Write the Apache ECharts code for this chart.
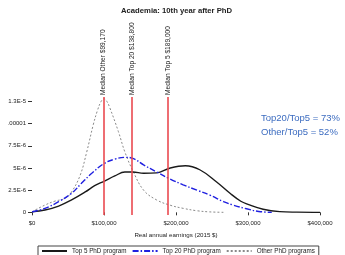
<!DOCTYPE html>
<html>
<head>
<meta charset="utf-8">
<script src="https://cdn.jsdelivr.net/npm/echarts@6/dist/echarts.min.js"></script>
<style>
  html, body { margin: 0; padding: 0; background: #fff; }
  #chart { width: 345px; height: 255px; }
</style>
</head>
<body>
<div id="chart"></div>
<script>
// Earnings in thousands of 2015 $; density in units of 1E-6
const top5X  = [0, 18, 37, 55, 74, 87, 100, 115, 129, 140, 155, 173, 192, 213, 233, 256, 275, 290, 300, 321, 344, 368, 400];
const top5Y  = [0.05, 0.26, 0.71, 1.4, 2.3, 3.0, 3.5, 4.1, 4.55, 4.55, 4.4, 4.45, 5.0, 5.25, 4.8, 3.45, 2.15, 1.25, 0.9, 0.35, 0.08, 0.02, 0];
const top20X = [0, 18, 37, 55, 69, 83, 100, 115, 129, 141, 155, 173, 192, 210, 229, 247, 266, 280, 298, 315, 333];
const top20Y = [0.05, 0.45, 1.2, 2.15, 3.3, 4.4, 5.5, 6.0, 6.2, 6.05, 5.35, 4.55, 3.75, 3.1, 2.5, 1.95, 1.2, 0.8, 0.4, 0.1, 0];
const otherX = [0, 18, 32, 46, 55, 67, 76, 85, 91, 96, 100, 104, 108, 120, 129, 140, 155, 173, 192, 210, 229, 247, 268];
const otherY = [0.07, 0.82, 1.27, 1.57, 2.3, 4.2, 6.8, 9.85, 11.5, 12.5, 12.8, 12.5, 11.8, 9.1, 6.8, 4.7, 2.5, 1.4, 0.8, 0.45, 0.18, 0.05, 0];

const seriesNames = ['Top 5 PhD program', 'Top 20 PhD program', 'Other PhD programs'];
const medianValues = [99.17, 138.8, 189];
const medianLabels = ['Median Other $99,170', 'Median Top 20 $138,800', 'Median Top 5 $189,000'];
const xTickValues = [0, 100, 200, 300, 400];
const xTickLabels = ['$0', '$100,000', '$200,000', '$300,000', '$400,000'];
const yTickValues = [0, 2.5, 5, 7.5, 10, 12.5];
const yTickLabels = ['0', '2.5E-6', '5E-6', '7.5E-6', '.00001', '1.3E-5'];
const titleText = 'Academia: 10th year after PhD';
const xAxisName = 'Real annual earnings (2015 $)';
const noteLines = ['Top20/Top5 = 73%', 'Other/Top5 = 52%'];

function pairs(xs, ys) { return xs.map((x, i) => [x, ys[i]]); }

const FONT = '"Liberation Sans", Arial, sans-serif';
const RED = '#ea4a50';
const chart = echarts.init(document.getElementById('chart'), null, { renderer: 'canvas' });

const option = {
  animation: false,
  backgroundColor: '#fff',
  title: {
    text: titleText, left: 121, top: 7, padding: 0,
    textStyle: { fontFamily: FONT, fontSize: 7.7, fontWeight: 'bold', color: '#222' }
  },
  grid: { left: 32, right: 25, top: 97, bottom: 40, containLabel: false },
  xAxis: {
    type: 'value', min: 0, max: 400,
    axisLine: { show: false },
    splitLine: { show: false },
    axisTick: { show: true, length: 3, lineStyle: { color: '#333' }, customValues: xTickValues },
    axisLabel: {
      customValues: xTickValues, margin: 5, fontSize: 6, fontFamily: FONT, color: '#222',
      formatter: v => xTickLabels[xTickValues.indexOf(v)]
    },
    name: xAxisName, nameLocation: 'middle', nameGap: 17,
    nameTextStyle: { fontSize: 6.2, fontFamily: FONT, color: '#222' }
  },
  yAxis: {
    type: 'value', min: -0.3, max: 13,
    axisLine: { show: false },
    splitLine: { show: false },
    axisTick: { show: true, length: 4, lineStyle: { color: '#333' }, customValues: yTickValues },
    axisLabel: {
      customValues: yTickValues, margin: 6, fontSize: 6, fontFamily: FONT, color: '#222',
      formatter: v => yTickLabels[yTickValues.indexOf(v)]
    }
  },
  legend: {
    left: 38, top: 246, padding: [2, 4, 3, 3], itemGap: 5, itemWidth: 25, itemHeight: 6,
    borderColor: '#444', borderWidth: 1,
    itemStyle: { color: 'rgba(0,0,0,0)', borderWidth: 0, opacity: 0 },
    textStyle: { fontSize: 6.3, fontFamily: FONT, color: '#222' },
    data: seriesNames
  },
  series: [
    {
      name: seriesNames[0], type: 'line', data: pairs(top5X, top5Y),
      smooth: 0.4, symbol: 'none', showSymbol: false, z: 3,
      lineStyle: { color: '#1a1a1a', width: 1.4, type: 'solid' },
      itemStyle: { color: '#1a1a1a' }
    },
    {
      name: seriesNames[1], type: 'line', data: pairs(top20X, top20Y),
      smooth: 0.4, symbol: 'none', showSymbol: false, z: 4,
      lineStyle: { color: '#1f1fe0', width: 1.4, type: [6, 2, 1.5, 2] },
      itemStyle: { color: '#1f1fe0' }
    },
    {
      name: seriesNames[2], type: 'line', data: pairs(otherX, otherY),
      smooth: 0.4, symbol: 'none', showSymbol: false, z: 2,
      lineStyle: { color: '#8a8a8a', width: 1, type: [2, 2] },
      itemStyle: { color: '#8a8a8a' }
    },
    {
      name: 'medians', type: 'line', data: [], z: 1,
      markLine: {
        silent: true, symbol: ['none', 'none'], animation: false,
        label: { show: false },
        emphasis: { disabled: true },
        lineStyle: { color: RED, width: 1.6, type: 'solid', opacity: 1 },
        data: medianValues.map(v => ({ xAxis: v }))
      }
    }
  ]
};
chart.setOption(option);

// rotated median labels, placed above the plot via the axis scale
const gridTop = chart.convertToPixel({ yAxisIndex: 0 }, 13);
const graphics = medianValues.map((v, i) => ({
  type: 'text',
  x: chart.convertToPixel({ xAxisIndex: 0 }, v),
  y: gridTop - 2,
  rotation: Math.PI / 2,
  style: {
    text: medianLabels[i], fontSize: 6.6, fontFamily: FONT, fill: '#222',
    align: 'left', verticalAlign: 'middle'
  }
}));
noteLines.forEach((t, i) => {
  graphics.push({
    type: 'text', x: 261, y: 118 + i * 14,
    style: { text: t, fontSize: 9.5, fontFamily: FONT, fill: '#3c6cc0', align: 'left', verticalAlign: 'middle' }
  });
});
chart.setOption({ graphic: graphics });
</script>
</body>
</html>
